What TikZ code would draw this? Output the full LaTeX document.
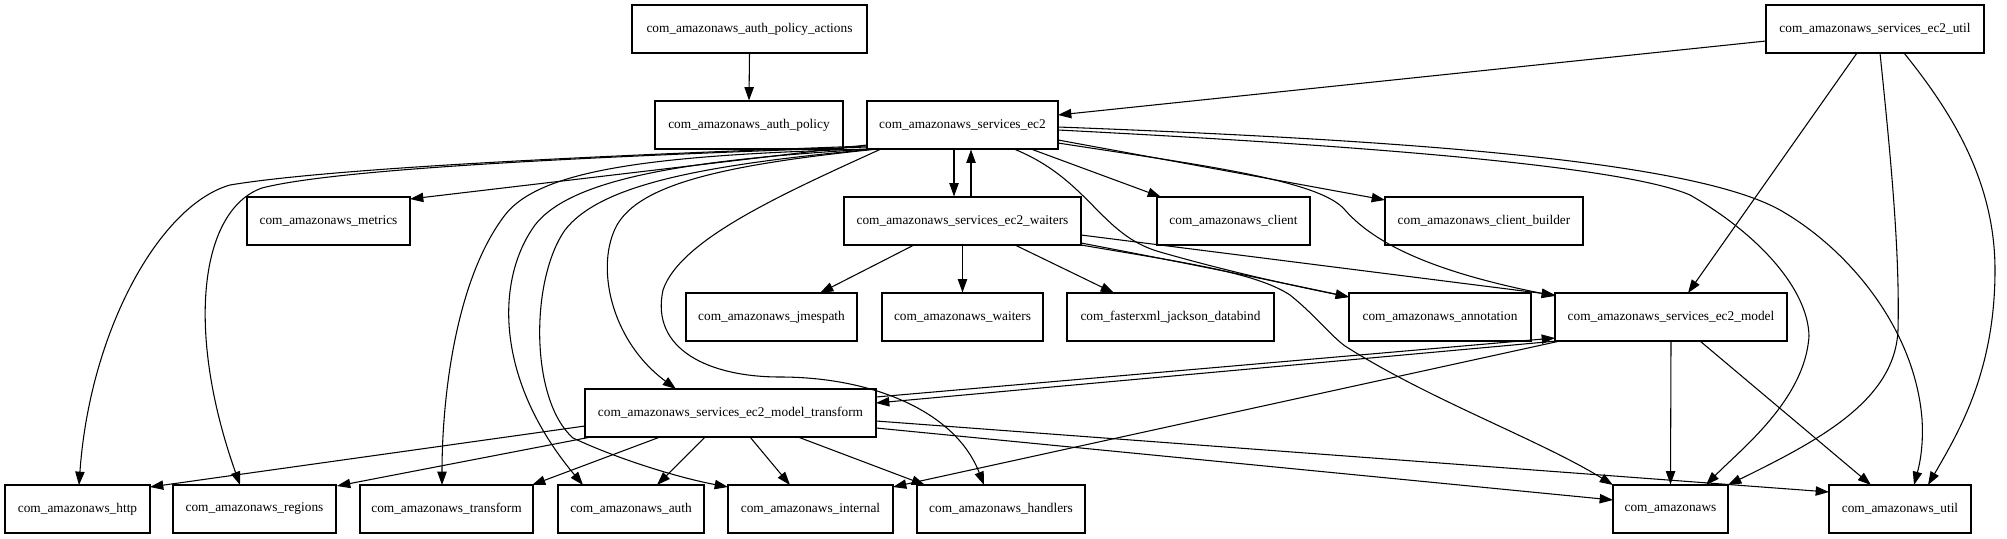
\documentclass[tikz,border=0pt]{standalone}
\usepackage{fontspec}
\setmainfont{Liberation Serif}
\usetikzlibrary{arrows.meta,calc}
\tikzset{
  nb/.style={draw, line width=0.8pt, rectangle, minimum height=36pt, inner sep=0pt,
    minimum width=#1*0.75pt, font=\fontsize{10}{12}\selectfont},
  dep/.style={line width=0.8pt, -{Triangle[length=10pt,width=7pt]}}
}
\begin{document}
\begin{tikzpicture}[x=0.75pt,y=-0.75pt]
\useasboundingbox (0,0) rectangle (2007,539);
% rank 0
\node[nb=235] (actions) at (749.5,29) {com\_amazonaws\_auth\_policy\_actions};
\node[nb=218] (ec2util) at (1875,29) {com\_amazonaws\_services\_ec2\_util};
% rank 1
\node[nb=188] (authpol) at (749,125) {com\_amazonaws\_auth\_policy};
\node[nb=191] (ec2) at (962.5,125) {com\_amazonaws\_services\_ec2};
% rank 2
\node[nb=163] (metrics) at (328.5,221) {com\_amazonaws\_metrics};
\node[nb=237] (waiters2) at (962.5,221) {com\_amazonaws\_services\_ec2\_waiters};
\node[nb=153] (client) at (1233.5,221) {com\_amazonaws\_client};
\node[nb=198] (builder) at (1484,221) {com\_amazonaws\_client\_builder};
% rank 3
\node[nb=171] (jmes) at (771.5,317) {com\_amazonaws\_jmespath};
\node[nb=161] (waiters) at (962.5,317) {com\_amazonaws\_waiters};
\node[nb=207] (jackson) at (1170.5,317) {com\_fasterxml\_jackson\_databind};
\node[nb=182] (annot) at (1440,317) {com\_amazonaws\_annotation};
\node[nb=232] (model) at (1671,317) {com\_amazonaws\_services\_ec2\_model};
% rank 4
\node[nb=291] (mtrans) at (730.5,413) {com\_amazonaws\_services\_ec2\_model\_transform};
% rank 5
\node[nb=145] (http) at (77.5,509) {com\_amazonaws\_http};
\node[nb=163] (regions) at (254.5,509) {com\_amazonaws\_regions};
\node[nb=173] (transform) at (446.5,509) {com\_amazonaws\_transform};
\node[nb=146] (auth) at (631,509) {com\_amazonaws\_auth};
\node[nb=165] (internal) at (810.5,509) {com\_amazonaws\_internal};
\node[nb=168] (handlers) at (1001,509) {com\_amazonaws\_handlers};
\node[nb=115] (amazonaws) at (1670.5,509) {com\_amazonaws};
\node[nb=142] (util) at (1900,509) {com\_amazonaws\_util};

% edges
\draw[dep] (actions.south) -- (authpol.north);
\draw[dep] ($(ec2util)+(-109,12)$) -- ($(ec2)+(95.5,-10)$);
\draw[dep] ($(ec2util)+(-18,24)$) -- ($(model)+(17,-24)$);
\draw[dep] ($(ec2util)+(5,24)$) .. controls (1890,150) and (1900,250) .. (1898,330)
  .. controls (1895,400) and (1820,440) .. ($(amazonaws)+(57.5,-24)$);
\draw[dep] ($(ec2util)+(29,24)$) .. controls (1950,110) and (1995,180) .. (1995,270)
  .. controls (1995,370) and (1960,430) .. ($(util)+(28,-24)$);

\draw[dep] ($(ec2.south)+(-8.5,0)$) -- ($(waiters2.north)+(-8.5,0)$);
\draw[dep] ($(waiters2.north)+(8.5,0)$) -- ($(ec2.south)+(8.5,0)$);
\draw[dep] ($(ec2)+(68.5,24)$) -- ($(client)+(-72.5,-24)$);
\draw[dep] ($(ec2)+(95.5,15)$) -- ($(builder)+(-99,-21)$);
\draw[dep] ($(ec2)+(95.5,18)$) .. controls (1200,165) and (1320,180) .. (1345,210)
  .. controls (1380,250) and (1450,275) .. ($(model)+(-116,-21)$);
\draw[dep] ($(ec2)+(51.5,24)$) .. controls (1090,180) and (1100,235) .. (1160,252)
  .. controls (1230,272) and (1290,285) .. ($(annot)+(-91,-20)$);
\draw[dep] ($(ec2)+(95.5,5)$) .. controls (1350,145) and (1620,165) .. (1690,195)
  .. controls (1760,235) and (1808,290) .. (1809,336)
  .. controls (1805,400) and (1740,450) .. ($(amazonaws)+(35.5,-24)$);
\draw[dep] ($(ec2)+(95.5,2)$) .. controls (1400,140) and (1690,160) .. (1780,210)
  .. controls (1850,250) and (1915,330) .. (1922,419)
  .. controls (1924,450) and (1918,470) .. ($(util)+(14,-24)$);
\draw[dep] ($(ec2)+(-95.5,20)$) -- ($(metrics)+(81.5,-22)$);
\draw[dep] ($(ec2)+(-95.5,21)$) .. controls (700,152) and (350,165) .. (230,185)
  .. controls (160,205) and (90,330) .. ($(http)+(1.5,-24)$);
\draw[dep] ($(ec2)+(-95.5,22)$) .. controls (700,153) and (350,165) .. (262,188)
  .. controls (200,210) and (185,330) .. ($(regions)+(-14.5,-24)$);
\draw[dep] ($(ec2)+(-93.5,24)$) .. controls (650,155) and (540,170) .. (505,215)
  .. controls (455,280) and (442,400) .. ($(transform)+(-4.5,-24)$);
\draw[dep] ($(ec2)+(-90.5,24)$) .. controls (680,160) and (570,180) .. (535,225)
  .. controls (495,280) and (495,380) .. ($(auth)+(-48,-24)$);
\draw[dep] ($(ec2)+(-87.5,24)$) .. controls (700,165) and (600,185) .. (565,230)
  .. controls (530,280) and (530,400) .. (573,438)
  .. controls (620,460) and (680,478) .. ($(internal)+(-82.5,-22)$);
\draw[dep] ($(ec2)+(-84.5,24)$) .. controls (720,165) and (640,185) .. (617,225)
  .. controls (595,265) and (610,340) .. ($(mtrans)+(-54.5,-24)$);
\draw[dep] ($(ec2)+(-81.5,24)$) .. controls (780,195) and (680,240) .. (663,290)
  .. controls (650,350) and (710,377) .. (780,377)
  .. controls (870,377) and (955,410) .. ($(handlers)+(-17,-24)$);

\draw[dep] ($(mtrans)+(-145.5,13)$) -- ($(http)+(72.5,-22)$);
\draw[dep] ($(mtrans)+(-139.5,24)$) -- ($(regions)+(82.5,-23)$);
\draw[dep] ($(mtrans)+(-70.5,24)$) -- ($(transform)+(85.5,-24)$);
\draw[dep] ($(mtrans)+(-25.5,24)$) -- ($(auth)+(26,-24)$);
\draw[dep] ($(mtrans)+(19.5,24)$) -- ($(internal)+(-20.5,-24)$);
\draw[dep] ($(mtrans)+(67.5,24)$) -- ($(handlers)+(-76,-24)$);
\draw[dep] ($(mtrans)+(145.5,15)$) -- ($(amazonaws)+(-57.5,-9)$);
\draw[dep] ($(mtrans)+(145.5,8)$) -- ($(util)+(-71,-17)$);
\draw[dep] ($(mtrans)+(145.5,-16)$) -- ($(model)+(-116,21)$);
\draw[dep] ($(model)+(-114,24)$) -- ($(mtrans)+(145.5,-10)$);

\draw[dep] ($(model)+(-111,24)$) -- ($(internal)+(82.5,-22)$);
\draw[dep] (model.south) -- (amazonaws.north);
\draw[dep] ($(model)+(29,24)$) -- ($(util)+(-29,-24)$);

\draw[dep] ($(waiters2)+(-48.5,24)$) -- ($(jmes)+(48.5,-24)$);
\draw[dep] (waiters2.south) -- (waiters.north);
\draw[dep] ($(waiters2)+(52.5,24)$) -- ($(jackson)+(-56.5,-24)$);
\draw[dep] ($(waiters2)+(118.5,22)$) .. controls (1170,260) and (1270,280) .. ($(annot)+(-91,-20)$);
\draw[dep] ($(waiters2)+(118.5,14)$) -- ($(model)+(-116,-22)$);
\draw[dep] ($(waiters2)+(118.5,24)$) .. controls (1180,262) and (1255,272) .. (1290,295)
  .. controls (1315,315) and (1330,335) .. (1345,346)
  .. controls (1430,400) and (1540,440) .. ($(amazonaws)+(-57.5,-24)$);
\end{tikzpicture}
\end{document}
